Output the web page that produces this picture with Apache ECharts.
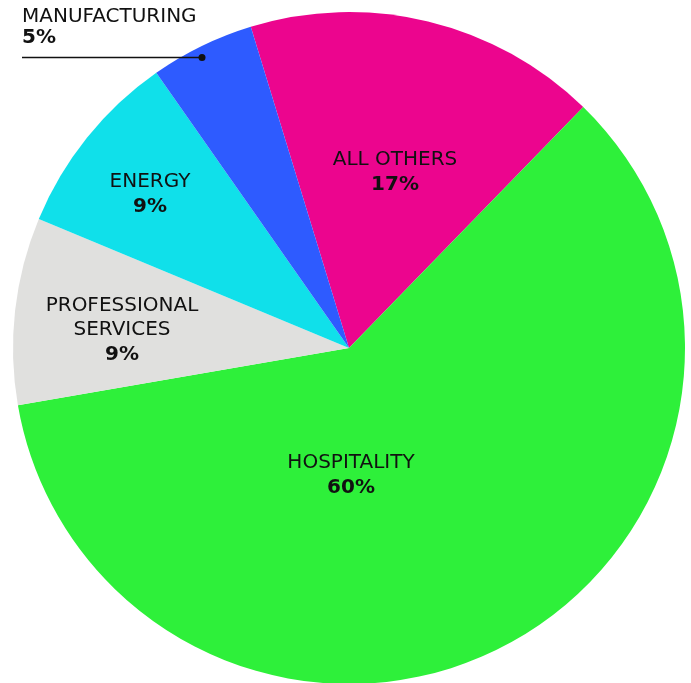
<!DOCTYPE html>
<html>
<head>
<meta charset="utf-8">
<script src="https://cdn.jsdelivr.net/npm/echarts@6/dist/echarts.min.js"></script>
<style>
  html, body { margin: 0; padding: 0; background: #ffffff; }
  #chart { width: 691px; height: 683px; }
</style>
</head>
<body>
<div id="chart"></div>
<script>
// Sector shares, clockwise from the top-left
const sectors = ['ALL OTHERS', 'HOSPITALITY', 'PROFESSIONAL\nSERVICES', 'ENERGY', 'MANUFACTURING'];
const shares = [17, 60, 9, 9, 5];
const colors = ['#EC058E', '#2EF03A', '#E0E0DE', '#10E0EA', '#2E5BFF'];

// Label anchor points (top of the text block; centre or left edge)
const labelSpots = [
  { x: 395, y: 148, align: 'center' },
  { x: 351, y: 451, align: 'center' },
  { x: 122, y: 294, align: 'center' },
  { x: 150, y: 170, align: 'center' },
  { x: 22, y: 6, align: 'left' }
];

const FONT = '"DejaVu Sans", "Liberation Sans", sans-serif';

const chart = echarts.init(document.getElementById('chart'), null, { renderer: 'canvas' });

chart.setOption({
  animation: false,
  backgroundColor: '#ffffff',
  series: [{
    type: 'pie',
    center: [349, 348],
    radius: [0, 336],
    startAngle: 107,
    clockwise: true,
    silent: true,
    label: {
      show: true,
      position: 'inside',
      formatter: p => '{n|' + p.name.split('\n').join('}\n{n|') + '}\n{v|' + p.value + '%}',
      rich: {
        n: { fontFamily: FONT, fontSize: 20, color: '#111111', lineHeight: 24, align: 'center' },
        v: { fontFamily: FONT, fontSize: 20, fontWeight: 'bold', color: '#111111', lineHeight: 26, align: 'center' }
      }
    },
    labelLine: { show: false },
    labelLayout: params => {
      const s = labelSpots[params.dataIndex];
      return { x: s.x, y: s.y, align: s.align, verticalAlign: 'top' };
    },
    data: sectors.map((name, i) => {
      const item = { name: name, value: shares[i], itemStyle: { color: colors[i] } };
      if (i === 4) {
        item.label = {
          rich: {
            n: { fontFamily: FONT, fontSize: 20, color: '#111111', lineHeight: 21, align: 'left' },
            v: { fontFamily: FONT, fontSize: 20, fontWeight: 'bold', color: '#111111', lineHeight: 21, align: 'left' }
          }
        };
      }
      return item;
    })
  }],
  graphic: [
    {
      type: 'line',
      z: 100,
      shape: { x1: 22, y1: 57.5, x2: 202, y2: 57.5 },
      style: { stroke: '#111111', lineWidth: 1.5 },
      silent: true
    },
    {
      type: 'circle',
      z: 100,
      shape: { cx: 202, cy: 57.5, r: 3.5 },
      style: { fill: '#111111' },
      silent: true
    }
  ]
});
</script>
</body>
</html>
